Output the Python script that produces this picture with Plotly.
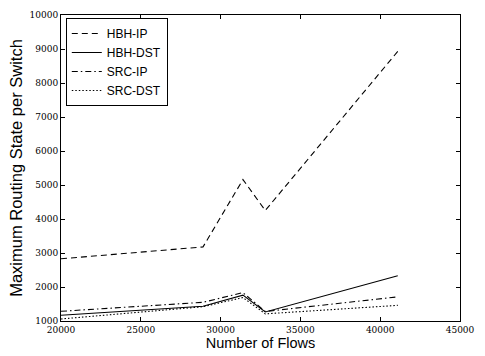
import plotly.graph_objects as go

flows = [20000, 28900, 31400, 32800, 41100]
hbh_ip = [2830, 3180, 5160, 4250, 8930]
hbh_dst = [1170, 1435, 1760, 1265, 2330]
src_ip = [1285, 1550, 1835, 1280, 1710]
src_dst = [1060, 1420, 1690, 1210, 1460]

x_ticks = [20000, 25000, 30000, 35000, 40000, 45000]
y_ticks = list(range(1000, 10001, 1000))

series = [
    ("HBH-IP", hbh_ip, "6px,4px"),
    ("HBH-DST", hbh_dst, "solid"),
    ("SRC-IP", src_ip, "6px,3px,1.5px,3px"),
    ("SRC-DST", src_dst, "1.5px,2px"),
]

fig = go.Figure()
for name, ys, dash in series:
    fig.add_trace(go.Scatter(x=flows, y=ys, mode="lines", name=name,
                             line=dict(color="black", width=1.1, dash=dash)))

tickfont = dict(family="DejaVu Serif", size=9, color="black")
fig.update_layout(
    width=485, height=356,
    margin=dict(l=61, r=16, t=10, b=30),
    paper_bgcolor="white", plot_bgcolor="white",
    font=dict(family="Liberation Sans", color="black"),
    showlegend=True,
    legend=dict(x=0.012, y=0.99, xanchor="left", yanchor="top",
                bordercolor="black", borderwidth=1, bgcolor="white",
                font=dict(family="Liberation Sans", size=12, color="black"),
                tracegroupgap=0),
    xaxis=dict(range=[20000, 45000], tickvals=x_ticks, ticktext=[str(v) for v in x_ticks],
               ticks="inside", ticklen=4, tickcolor="black", mirror="allticks",
               showline=True, linecolor="black", linewidth=1, showgrid=False, zeroline=False,
               tickfont=tickfont,
               title=dict(text="Number of Flows", standoff=1,
                          font=dict(family="Liberation Sans", size=14.5))),
    yaxis=dict(range=[1000, 10000], tickvals=y_ticks, ticktext=[str(v) for v in y_ticks],
               ticks="inside", ticklen=4, tickcolor="black", mirror="allticks",
               showline=True, linecolor="black", linewidth=1, showgrid=False, zeroline=False,
               tickfont=tickfont,
               title=dict(text="Maximum Routing State per Switch", standoff=2,
                          font=dict(family="Liberation Sans", size=16.5))),
)
fig.write_html("out.html")
